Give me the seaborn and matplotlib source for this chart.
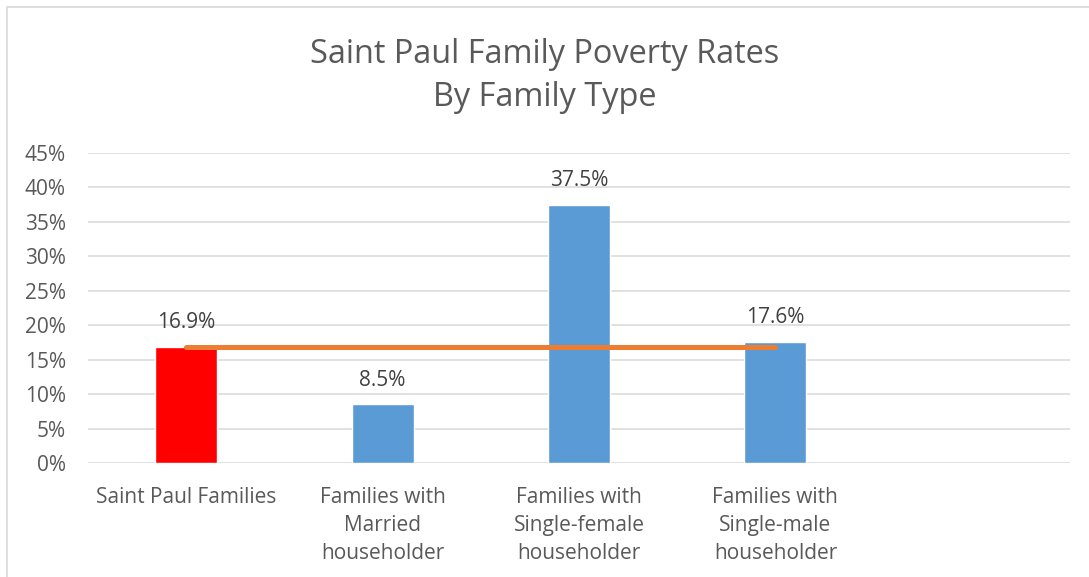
import pandas as pd
import seaborn as sns
import matplotlib.pyplot as plt
from matplotlib.patches import Rectangle

categories = ['Saint Paul Families',
              'Families with\nMarried\nhouseholder',
              'Families with\nSingle-female\nhouseholder',
              'Families with\nSingle-male\nhouseholder']
rates = [16.9, 8.5, 37.5, 17.6]
bar_colors = ['#FF0000', '#5B9BD5', '#5B9BD5', '#5B9BD5']
city_rate = [16.9, 16.9, 16.9, 16.9]
yticks = [0, 5, 10, 15, 20, 25, 30, 35, 40, 45]

sns.set_theme(style='white')
plt.rcParams['font.family'] = ['Open Sans', 'DejaVu Sans']

gray = '#595959'
df = pd.DataFrame({'category': categories, 'rate': rates})

fig = plt.figure(figsize=(10.89, 5.77), dpi=100)
ax = fig.add_axes([0.0808, 0.1976, 0.9018, 0.5372])

sns.barplot(data=df, x='category', y='rate', hue='category', palette=bar_colors,
            width=0.316, legend=False, saturation=1, ax=ax)
sns.lineplot(x=list(range(len(categories))), y=city_rate, color='#ED7D31',
             linewidth=3.6, ax=ax, solid_capstyle='round', zorder=4)

for i, v in enumerate(rates):
    ax.text(i, v + 3.5, f'{v:.1f}%', ha='center', va='center', fontsize=15, color='#404040')

ax.set_xlim(-0.5, 4.5)
ax.set_ylim(0, 45)
ax.set_yticks(yticks)
ax.set_yticklabels([f'{t}%' for t in yticks], fontsize=15, color=gray)
ax.set_xticks(range(len(categories)))
ax.set_xticklabels(categories, fontsize=15, color=gray, linespacing=1.46)
ax.tick_params(axis='y', length=0, pad=16)
ax.tick_params(axis='x', length=0, pad=17)
ax.set_xlabel('')
ax.set_ylabel('')
ax.yaxis.grid(True, color='#D9D9D9', linewidth=1.1)
ax.set_axisbelow(True)
for s in ax.spines.values():
    s.set_visible(False)

fig.text(0.5, 0.868, 'Saint Paul Family Poverty Rates\nBy Family Type', ha='center', va='center',
         fontsize=23.4, color=gray, linespacing=1.4)

# chart frame
fig.patches.append(Rectangle((7 / 1089, -0.1), 1.2, 1 - 7 / 577 + 0.1, transform=fig.transFigure,
                             fill=False, edgecolor='#D9D9D9', linewidth=1.2))

fig.savefig('out.png', dpi=100, facecolor='white')
